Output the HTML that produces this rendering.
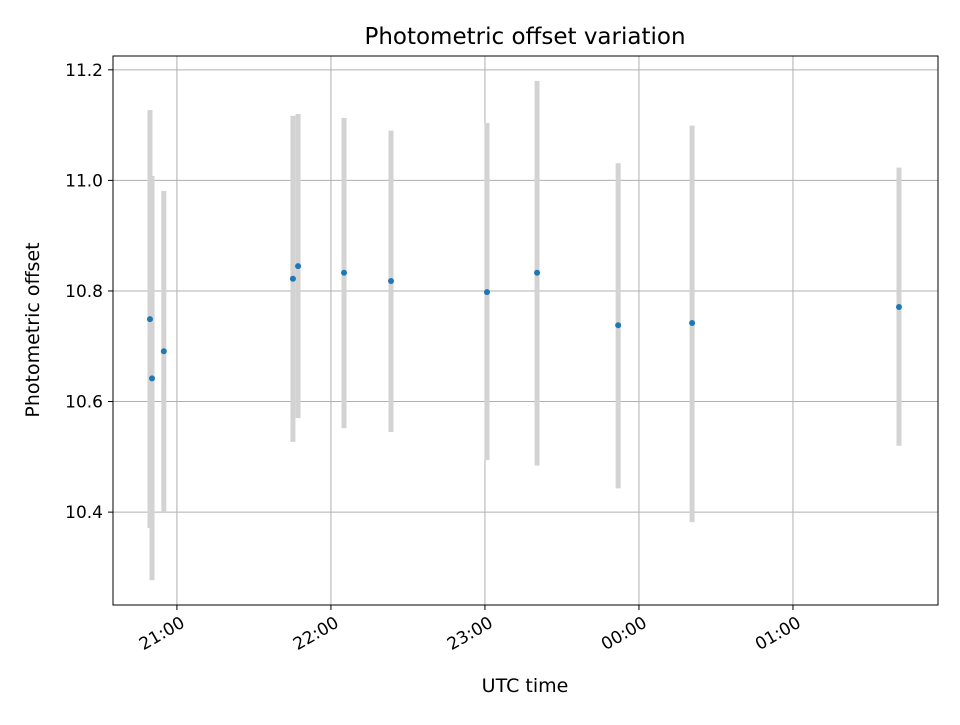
<!DOCTYPE html>
<html><head><meta charset="utf-8"><style>
body{margin:0;background:#fff;font-family:"Liberation Sans","DejaVu Sans",sans-serif}
text{font-family:"DejaVu Sans","Liberation Sans",sans-serif;fill:#000}
</style></head><body>
<svg id="chart" width="960" height="720" viewBox="0 0 960 720">
<rect width="960" height="720" fill="#fff"/>
<g id="grid"></g><g id="bars"></g><g id="pts"></g><g id="axes"></g>
<text x="525" y="44" font-size="23" text-anchor="middle">Photometric offset variation</text>
<text x="525" y="692" font-size="19" text-anchor="middle">UTC time</text>
<text transform="translate(39,330) rotate(-90)" font-size="19" text-anchor="middle">Photometric offset</text>
</svg>
<script>
// minutes after 21:00 UTC
const times=[-10.5,-9.7,-5.1,45.2,47.2,65.1,83.4,120.8,140.3,171.9,200.7,281.3];
const values=[10.749,10.642,10.691,10.822,10.845,10.833,10.818,10.798,10.833,10.738,10.742,10.771];
const errUpper=[11.127,11.008,10.981,11.117,11.120,11.113,11.090,11.104,11.180,11.031,11.099,11.023];
const errLower=[10.371,10.277,10.400,10.527,10.570,10.552,10.545,10.494,10.484,10.443,10.382,10.520];
const xTicks=[0,60,120,180,240];
const xTickLabels=["21:00","22:00","23:00","00:00","01:00"];
const yTicks=[10.4,10.6,10.8,11.0,11.2];
const yTickLabels=["10.4","10.6","10.8","11.0","11.2"];
const L=113,R=938,T=56,B=605;
const xMin=-24.9,xMax=296.5,yMin=10.232,yMax=11.225;
const X=v=>L+(v-xMin)/(xMax-xMin)*(R-L);
const Y=v=>B-(v-yMin)/(yMax-yMin)*(B-T);
const NS="http://www.w3.org/2000/svg";
function mk(tag,parent,attrs){const e=document.createElementNS(NS,tag);for(const k in attrs)e.setAttribute(k,attrs[k]);document.getElementById(parent).appendChild(e);return e;}
xTicks.forEach((t,i)=>{
 const g=mk('line','grid',{x1:X(t),x2:X(t),y1:T,y2:B,stroke:'#b0b0b0','stroke-width':1});
 
 
 const tk=mk('line','axes',{x1:X(t),x2:X(t),y1:B,y2:B+5,stroke:'#000','stroke-width':1});
 
 
 const lb=mk('text','axes',{transform:`translate(${X(t)+9},${B+21}) rotate(-30)`,'font-size':17,'text-anchor':'end'});
 lb.textContent=xTickLabels[i];
 
 
});
yTicks.forEach((t,i)=>{
 const g=mk('line','grid',{x1:L,x2:R,y1:Y(t),y2:Y(t),stroke:'#b0b0b0','stroke-width':1});
 
 
 const tk=mk('line','axes',{x1:L-5,x2:L,y1:Y(t),y2:Y(t),stroke:'#000','stroke-width':1});
 
 
 const lb=mk('text','axes',{x:L-10,y:Y(t)+6,'font-size':17,'text-anchor':'end'});
 lb.textContent=yTickLabels[i];
 
 
});
times.forEach((t,i)=>{
 const b=mk('line','bars',{x1:X(t),x2:X(t),y1:Y(errUpper[i]),y2:Y(errLower[i]),stroke:'#d3d3d3','stroke-width':5});
 
 
 const p=mk('circle','pts',{cx:X(t),cy:Y(values[i]),r:3,fill:'#1f77b4'});
 
 
});
const f=mk('rect','axes',{x:L,y:T,width:R-L,height:B-T,fill:'none',stroke:'#000','stroke-width':1});


</script>
</body></html>
